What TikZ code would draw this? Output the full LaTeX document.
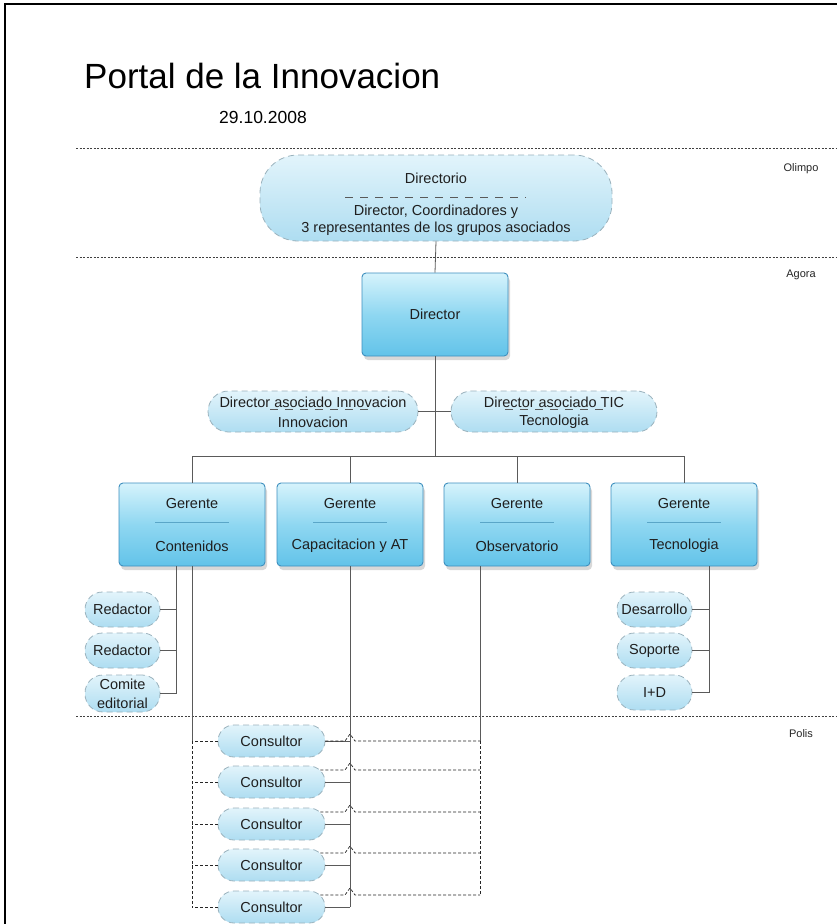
\documentclass[tikz,border=0pt]{standalone}
\usepackage{fontspec}
\setmainfont{Liberation Sans}
\usetikzlibrary{shadows,calc}
\definecolor{boxtop}{HTML}{D6F3FC}
\definecolor{boxmid}{HTML}{8FD7F1}
\definecolor{boxbot}{HTML}{62C3E9}
\definecolor{boxline}{HTML}{3E8FBE}
\definecolor{pilltop}{HTML}{E2F4FB}
\definecolor{pillbot}{HTML}{AEDDF1}
\definecolor{pillline}{HTML}{9AB2BD}
\definecolor{connc}{HTML}{5A5A5A}
\definecolor{sepc}{HTML}{5AA6C8}
\begin{document}
\begin{tikzpicture}[x=1pt,y=-1pt,
  nodefont/.style={font=\fontsize{14.5}{18}\selectfont, text=black!88},
  box/.style={rectangle, rounded corners=4pt, draw=boxline, line width=0.9pt,
    top color=boxtop, bottom color=boxbot, middle color=boxmid,
    drop shadow={shadow xshift=2pt, shadow yshift=-4pt, opacity=0.3},
    minimum width=146pt, minimum height=83pt, inner sep=0pt, nodefont},
  pill/.style={rectangle, rounded corners=#1, draw=pillline, dash pattern=on 6pt off 4pt,
    line width=0.8pt, top color=pilltop, bottom color=pillbot, inner sep=0pt, nodefont, align=center},
  txt/.style={inner sep=0pt, nodefont},
  conn/.style={draw=connc, line width=0.8pt},
  dashline/.style={draw=black!85, line width=0.7pt, dash pattern=on 3pt off 2pt},
  pageline/.style={draw=black!75, line width=0.7pt, dash pattern=on 2pt off 1.5pt},
  sepdash/.style={draw=black!65, line width=0.8pt, dash pattern=on 8pt off 7pt},
  zone/.style={inner sep=0pt, font=\fontsize{11}{13}\selectfont, text=black!85}
]
\fill[white] (0,0) rectangle (836,924);
\useasboundingbox (0,0) rectangle (836,924);
% frame
\draw[line width=2pt] (5,930) -- (5,4) -- (840,4);
% title
\node[inner sep=0pt, anchor=base west, font=\fontsize{35}{40}\selectfont] (title) at (84,88) {Portal de la Innovacion};
\node[inner sep=0pt, anchor=base west, font=\fontsize{17.5}{20}\selectfont] (date) at (219,123) {29.10.2008};
% zone lines
\draw[pageline] (76,148) -- (836,148);
\draw[pageline] (76,257) -- (836,257);
\draw[pageline] (76,716) -- (836,716);
\node[zone, anchor=base] (olimpo) at (801,171) {Olimpo};
\node[zone, anchor=base] (agora) at (801,277) {Agora};
\node[zone, anchor=base] (polis) at (801,737) {Polis};

% Directorio
\node[pill=38pt, minimum width=352pt, minimum height=86pt] (dir) at (436,198) {};
\node[txt] (dirt1) at (436,178) {Directorio};
\draw[sepdash] (345,197) -- (526,197);
\node[txt] (dirt2) at (436,212) {Director, Coordinadores y};
\node[txt] (dirt3) at (436,229) {3 representantes de los grupos asociados};

% Director
\node[box] (d) at (435,314.5) {Director};
\draw[conn] (dir.south) -- (d.north);
\coordinate (bus) at (435,456);
\draw[conn] (d.south) -- (bus);

% associated directors
\node[pill=20.5pt, minimum width=210pt, minimum height=41pt] (al) at (313,411.5) {};
\node[txt] (alt1) at (313,402) {Director asociado Innovacion};
\node[txt] (alt2) at (313,422) {Innovacion};
\draw[sepdash] (270,409) -- (368,409);
\node[pill=20.5pt, minimum width=206pt, minimum height=41pt] (ar) at (554,411.5) {};
\node[txt] (art1) at (554,402) {Director asociado TIC};
\node[txt] (art2) at (554,422) {Tecnologia};
\draw[sepdash] (505,409) -- (605,409);
\draw[conn] (al.east) -- (al.east -| d.south);
\draw[conn] (ar.west) -- (ar.west -| d.south);

% Gerentes
\foreach \n/\x/\t in {g1/192/Contenidos, g2/350/Capacitacion y AT, g3/517/Observatorio, g4/684/Tecnologia}{
  \node[box] (\n) at (\x,524.5) {};
  \node[txt] (\n t1) at (\x,504) {Gerente};
  \draw[draw=sepc, line width=0.6pt] (\x-37,522) -- (\x+37,522);
  \node[txt] (\n t2) at (\x,546) {\t};
}
\draw[conn] (g1.north |- bus) -- (g4.north |- bus);
\foreach \n in {g1,g2,g3,g4}{\draw[conn] (\n.north) -- (\n.north |- bus);}

% left small nodes
\node[pill=17.5pt, minimum width=75pt, minimum height=35pt] (r1) at (122.5,609.5) {Redactor};
\node[pill=17.5pt, minimum width=75pt, minimum height=35pt] (r2) at (122.5,650.5) {Redactor};
\node[pill=18pt, minimum width=75pt, minimum height=37pt, font=\fontsize{14.5}{19}\selectfont] (r3) at (122.5,693.5) {Comite\\editorial};
\coordinate (g1a) at ($(g1.south)+(-16,0)$);
\draw[conn] (g1a) |- (r3.east);
\draw[conn] (r1.east) -- (r1.east -| g1a);
\draw[conn] (r2.east) -- (r2.east -| g1a);

% right small nodes
\node[pill=17.5pt, minimum width=75pt, minimum height=35pt] (s1) at (654.5,609.5) {Desarrollo};
\node[pill=17.5pt, minimum width=75pt, minimum height=35pt] (s2) at (654.5,650.5) {Soporte};
\node[pill=17.5pt, minimum width=75pt, minimum height=35pt] (s3) at (654.5,692.5) {I+D};
\coordinate (g4a) at ($(g4.south)+(25,0)$);
\draw[conn] (g4a) |- (s3.east);
\draw[conn] (s1.east) -- (s1.east -| g4a);
\draw[conn] (s2.east) -- (s2.east -| g4a);

% Consultores
\foreach \n/\y in {c1/741, c2/782, c3/824, c4/865, c5/907}{
  \node[pill=16pt, minimum width=107pt, minimum height=32pt] (\n) at (271.5,\y) {Consultor};
}
% solid links to Capacitacion
\draw[conn] (g2.south) -- (g2.south |- c5.east);
\foreach \n in {c1,c2,c3,c4,c5}{\draw[conn] (\n.east) -- (\n.east -| g2.south);}
% dashed links to Contenidos
\draw[conn] (g1.south) -- (g1.south |- c1.west);
\draw[dashline] (g1.south |- c1.west) -- (g1.south |- c5.west);
\foreach \n in {c1,c2,c3,c4,c5}{\draw[dashline] (\n.west) -- (\n.west -| g1.south);}
% dashed links to Observatorio with line hops
\coordinate (g3a) at ($(g3.south)+(-37,0)$);
\coordinate (h1) at (c1.east);
\coordinate (h2) at ($(c2.east)+(-5,-12)$);
\coordinate (h3) at ($(c3.east)+(-5,-12)$);
\coordinate (h4) at ($(c4.east)+(-5,-12)$);
\coordinate (h5) at ($(c5.east)+(-5,-12)$);
\draw[conn] (g3a) -- (g3a |- h1);
\draw[dashline] (g3a |- h1) -- (g3a |- h5);
\foreach \h in {h1,h2,h3,h4,h5}{
  \draw[dashline] (\h) -- ($(\h -| g2.south)+(-5,0)$) -- ($(\h -| g2.south)+(0,-7)$)
    -- ($(\h -| g2.south)+(5,0)$) -- (\h -| g3a);
}
\end{tikzpicture}
\end{document}
